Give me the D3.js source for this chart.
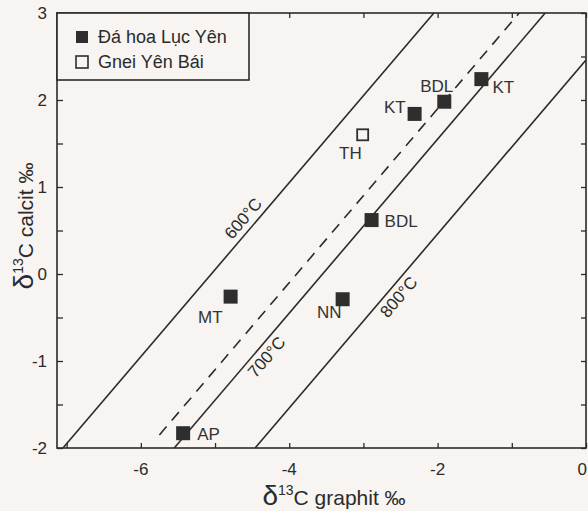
<!DOCTYPE html>
<html>
<head>
<meta charset="utf-8">
<script src="https://cdn.jsdelivr.net/npm/d3@7"></script>
<style>
  body { margin: 0; background: #f8f4f1; }
  svg { display: block; font-family: "Liberation Sans", Arial, sans-serif; }
  .frame { fill: none; stroke: #2b2b2b; stroke-width: 1.6; }
  .tick line { stroke: #2b2b2b; stroke-width: 1.3; }
  .tlabel { fill: #2b2b2b; font-size: 17px; }
  .ptlabel { fill: #333; font-size: 17px; }
</style>
</head>
<body>
<div id="chart"></div>
<script>
// marble samples (Đá hoa Lục Yên), graphite vs calcite d13C
const marbleLabels = ['AP', 'MT', 'NN', 'BDL', 'KT', 'BDL', 'KT'];
const marbleGraphite = [-5.43, -4.79, -3.28, -2.89, -2.31, -1.91, -1.41];
const marbleCalcite = [-1.83, -0.26, -0.29, 0.62, 1.84, 1.98, 2.24];

// gneiss sample (Gnei Yên Bái)
const gneissLabels = ['TH'];
const gneissGraphite = [-3.01];
const gneissCalcite = [1.60];

// isotherms: calcite - graphite offset
const isoLabels = ['600°C', '', '700°C', '800°C'];
const isoOffset = [5.05, 3.9, 3.55, 2.46];
const isoDashed = [false, true, false, false];

const xTicks = [-7, -6, -5, -4, -3, -2, -1, 0];
const xTickLabels = ['-6', '-4', '-2', '0'];
const yTicks = [-2, -1.5, -1, -0.5, 0, 0.5, 1, 1.5, 2, 2.5, 3];
const yTickLabels = ['-2', '-1', '0', '1', '2', '3'];

const legendLabels = ['Đá hoa Lục Yên', 'Gnei Yên Bái'];

const W = 588, H = 511;
const margin = { top: 13, left: 57, right: 2, bottom: 63 };

const svg = d3.select('#chart').append('svg')
    .attr('width', W)
    .attr('height', H);

const x = d3.scaleLinear().domain([-7.13, 0]).range([margin.left, W - margin.right]);
const y = d3.scaleLinear().domain([-2, 3]).range([H - margin.bottom, margin.top]);

const x0 = x.range()[0], x1 = x.range()[1];
const y0 = y.range()[0], y1 = y.range()[1];

// clip for isotherm lines
svg.append('clipPath').attr('id', 'plot')
    .append('rect')
    .attr('x', x0).attr('y', y1)
    .attr('width', x1 - x0).attr('height', y0 - y1);

// isotherm lines (slope 1)
const lines = svg.append('g').attr('clip-path', 'url(#plot)');
isoOffset.forEach((c, i) => {
    // dashed one starts near the AP point
    let xs = isoDashed[i] ? -1.85 - c : -2 - c;
    let xe = 3 - c;
    lines.append('line')
        .attr('x1', x(xs)).attr('y1', y(xs + c))
        .attr('x2', x(xe)).attr('y2', y(xe + c))
        .attr('stroke', '#2b2b2b')
        .attr('stroke-width', 1.6)
        .attr('stroke-dasharray', isoDashed[i] ? '11,8' : null);
});

// isotherm labels, rotated along the line
const angle = Math.atan2(y(1) - y(0), x(1) - x(0)) * 180 / Math.PI;
const labelAt = [-4.50, null, -4.42, -2.64];
const labelSide = [6, 0, -17, -17];
const ddx = x(1) - x(0), ddy = y(1) - y(0);
const len = Math.hypot(ddx, ddy);
const nx = ddy / len, ny = -ddx / len; // normal pointing up-left
isoLabels.forEach((t, i) => {
    if (!t) return;
    let px = x(labelAt[i]) + nx * labelSide[i];
    let py = y(labelAt[i] + isoOffset[i]) + ny * labelSide[i];
    svg.append('text')
        .attr('transform', `translate(${px},${py}) rotate(${angle})`)
        .attr('text-anchor', 'middle')
        .attr('fill', '#2b2b2b')
        .style('font-size', '17px')
        .text(t);
});

// axes: ticks point inward
const axBottom = svg.append('g').attr('transform', `translate(0,${y0})`)
    .call(d3.axisBottom(x).tickValues(xTicks).tickSize(-5).tickFormat(''));
const axTop = svg.append('g').attr('transform', `translate(0,${y1})`)
    .call(d3.axisTop(x).tickValues(xTicks).tickSize(-5).tickFormat(''));
const axLeft = svg.append('g').attr('transform', `translate(${x0},0)`)
    .call(d3.axisLeft(y).tickValues(yTicks).tickSize(-6).tickFormat(''));
const axRight = svg.append('g').attr('transform', `translate(${x1},0)`)
    .call(d3.axisRight(y).tickValues(yTicks).tickSize(-5).tickFormat(''));
[axBottom, axTop, axLeft, axRight].forEach(g => g.select('.domain').remove());

svg.selectAll('.xlab').data(xTickLabels).enter()
    .append('text')
    .attr('class', 'tlabel')
    .attr('x', d => +d === 0 ? W - 1 : x(+d))
    .attr('y', y0 + 27)
    .attr('text-anchor', d => +d === 0 ? 'end' : 'middle')
    .text(d => d);

svg.selectAll('.ylab').data(yTickLabels).enter()
    .append('text')
    .attr('class', 'tlabel')
    .attr('x', x0 - 10)
    .attr('y', d => y(+d) + 6)
    .attr('text-anchor', 'end')
    .text(d => d);

svg.append('rect').attr('class', 'frame')
    .attr('x', x0).attr('y', y1)
    .attr('width', x1 - x0).attr('height', y0 - y1);

// points
const marble = marbleLabels.map((l, i) => ({ l, gx: marbleGraphite[i], cx: marbleCalcite[i] }));
const gneiss = gneissLabels.map((l, i) => ({ l, gx: gneissGraphite[i], cx: gneissCalcite[i] }));

svg.selectAll('.m').data(marble).enter()
    .append('rect')
    .attr('x', d => x(d.gx) - 7)
    .attr('y', d => y(d.cx) - 7)
    .attr('width', 14).attr('height', 14)
    .attr('fill', '#2e2e2e');

svg.selectAll('.g').data(gneiss).enter()
    .append('rect')
    .attr('x', d => x(d.gx) - 5.5)
    .attr('y', d => y(d.cx) - 5.5)
    .attr('width', 11).attr('height', 11)
    .attr('fill', '#f8f4f1')
    .attr('stroke', '#2e2e2e')
    .attr('stroke-width', 1.8);

// label placement (px offsets from point centre)
const markOff = [[14, 7, 'start'], [-8, 26, 'end'], [-1, 19, 'end'], [13, 7, 'start'],
                 [-9, -1, 'end'], [9, -10, 'end'], [11, 14, 'start']];
const gneissOff = [[-1, 24, 'end']];

svg.selectAll('.ml').data(marble).enter()
    .append('text')
    .attr('class', 'ptlabel')
    .attr('x', (d, i) => x(d.gx) + markOff[i][0])
    .attr('y', (d, i) => y(d.cx) + markOff[i][1])
    .attr('text-anchor', (d, i) => markOff[i][2])
    .text(d => d.l);

svg.selectAll('.gl').data(gneiss).enter()
    .append('text')
    .attr('class', 'ptlabel')
    .attr('x', (d, i) => x(d.gx) + gneissOff[i][0])
    .attr('y', (d, i) => y(d.cx) + gneissOff[i][1])
    .attr('text-anchor', (d, i) => gneissOff[i][2])
    .text(d => d.l);

// legend
const leg = svg.append('g');
leg.append('rect')
    .attr('x', x0).attr('y', y1)
    .attr('width', 192).attr('height', 67)
    .attr('fill', '#f8f4f1')
    .attr('stroke', '#2b2b2b')
    .attr('stroke-width', 1.6);
legendLabels.forEach((t, i) => {
    let cy = y1 + 24 + i * 25;
    leg.append('rect')
        .attr('x', 76).attr('y', cy - 6)
        .attr('width', 12).attr('height', 12)
        .attr('fill', i === 0 ? '#2e2e2e' : 'none')
        .attr('stroke', '#2e2e2e')
        .attr('stroke-width', i === 0 ? 0 : 1.6);
    leg.append('text')
        .attr('x', 98).attr('y', cy + 6)
        .attr('fill', '#2b2b2b')
        .style('font-size', '18px')
        .text(t);
});

// axis titles
const xt = svg.append('text')
    .attr('x', 334).attr('y', 505)
    .attr('text-anchor', 'middle')
    .attr('fill', '#2b2b2b');
xt.append('tspan').style('font-size', '28px').text('δ');
xt.append('tspan').style('font-size', '14px').attr('dy', -10).text('13');
xt.append('tspan').style('font-size', '21px').attr('dy', 10).text('C graphit ‰');

const yt = svg.append('text')
    .attr('transform', 'translate(33,226) rotate(-90)')
    .attr('text-anchor', 'middle')
    .attr('fill', '#2b2b2b');
yt.append('tspan').style('font-size', '28px').text('δ');
yt.append('tspan').style('font-size', '14px').attr('dy', -10).text('13');
yt.append('tspan').style('font-size', '21px').attr('dy', 10).text('C calcit ‰');
</script>
</body>
</html>
